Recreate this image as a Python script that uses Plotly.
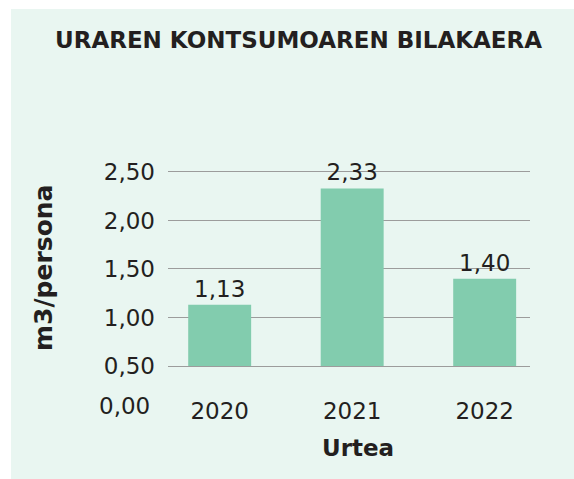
import plotly.graph_objects as go

# ---- data ----
years = ["2020", "2021", "2022"]
consumption = [1.13, 2.33, 1.40]
value_labels = ["1,13", "2,33", "1,40"]
y_tickvals = [0.5, 1.0, 1.5, 2.0, 2.5]
y_ticktext = ["0,50", "1,00", "1,50", "2,00", "2,50"]
y_base_label = "0,00"
title_text = "URAREN KONTSUMOAREN BILAKAERA"
y_title = "m3/persona"
x_title = "Urtea"

# ---- layout geometry (pixels) ----
W, H = 574, 479
Y0, Y1 = 0.5, 2.52
PL, PR = 168, 530      # plot left/right
PB = 366               # pixel of y = 0.5
UNIT = 97.0            # pixels per 1.0 on y
PT = round(PB - (Y1 - Y0) * UNIT)
pw, ph = PR - PL, PB - PT

def px_x(px):
    return (px - PL) / pw

def px_y(py):
    return (PB - py) / ph

FONT = "DejaVu Sans"
TXT = "#231f20"
BG = "#E9F6F1"
BAR = "#82CCAE"
GRID = "#9C9C9C"
FS = 23

fig = go.Figure()
fig.add_trace(go.Bar(
    x=years, y=consumption,
    text=value_labels, textposition="outside",
    textfont=dict(family=FONT, size=FS, color=TXT),
    marker=dict(color=BAR, line=dict(width=0)),
    width=0.475, cliponaxis=False, constraintext="none",
    hoverinfo="skip",
))

fig.update_layout(
    width=W, height=H,
    margin=dict(l=PL, r=W - PR, t=PT, b=H - PB, pad=0),
    paper_bgcolor="white",
    plot_bgcolor="rgba(0,0,0,0)",
    showlegend=False,
    font=dict(family=FONT, color=TXT),
    xaxis=dict(
        range=[-0.39, 2.342], showgrid=False, zeroline=False,
        showline=True, linecolor=GRID, linewidth=1.4,
        ticks="", tickfont=dict(family=FONT, size=FS, color=TXT),
        ticklabelstandoff=24, fixedrange=True,
    ),
    yaxis=dict(
        range=[Y0, Y1], tickvals=y_tickvals, ticktext=y_ticktext,
        showgrid=True, gridcolor=GRID, gridwidth=1.4, zeroline=False,
        showline=False, ticks="", tickfont=dict(family=FONT, size=FS, color=TXT),
        ticklabelstandoff=12, fixedrange=True,
    ),
    shapes=[dict(
        type="rect", xref="paper", yref="paper", layer="below",
        x0=px_x(11), x1=px_x(W + 2), y0=px_y(H + 2), y1=px_y(9),
        fillcolor=BG, line=dict(width=0),
    )],
    annotations=[
        dict(text=f"<b>{title_text}</b>", xref="paper", yref="paper",
             x=px_x(298), y=px_y(40), xanchor="center", yanchor="middle",
             showarrow=False, font=dict(family=FONT, size=23, color=TXT)),
        dict(text=f"<b>{y_title}</b>", xref="paper", yref="paper",
             x=px_x(43), y=px_y(268), xanchor="center", yanchor="middle",
             textangle=-90, showarrow=False,
             font=dict(family=FONT, size=25, color=TXT)),
        dict(text=f"<b>{x_title}</b>", xref="paper", yref="paper",
             x=px_x(358), y=px_y(448), xanchor="center", yanchor="middle",
             showarrow=False, font=dict(family=FONT, size=23, color=TXT)),
        dict(text=y_base_label, xref="paper", yref="paper",
             x=px_x(152), y=px_y(406), xanchor="right", yanchor="middle",
             showarrow=False, font=dict(family=FONT, size=FS, color=TXT)),
    ],
)

fig.write_html("out.html", config=dict(displayModeBar=False),
               post_script="document.body.style.margin='0';document.body.style.overflow='hidden';")
